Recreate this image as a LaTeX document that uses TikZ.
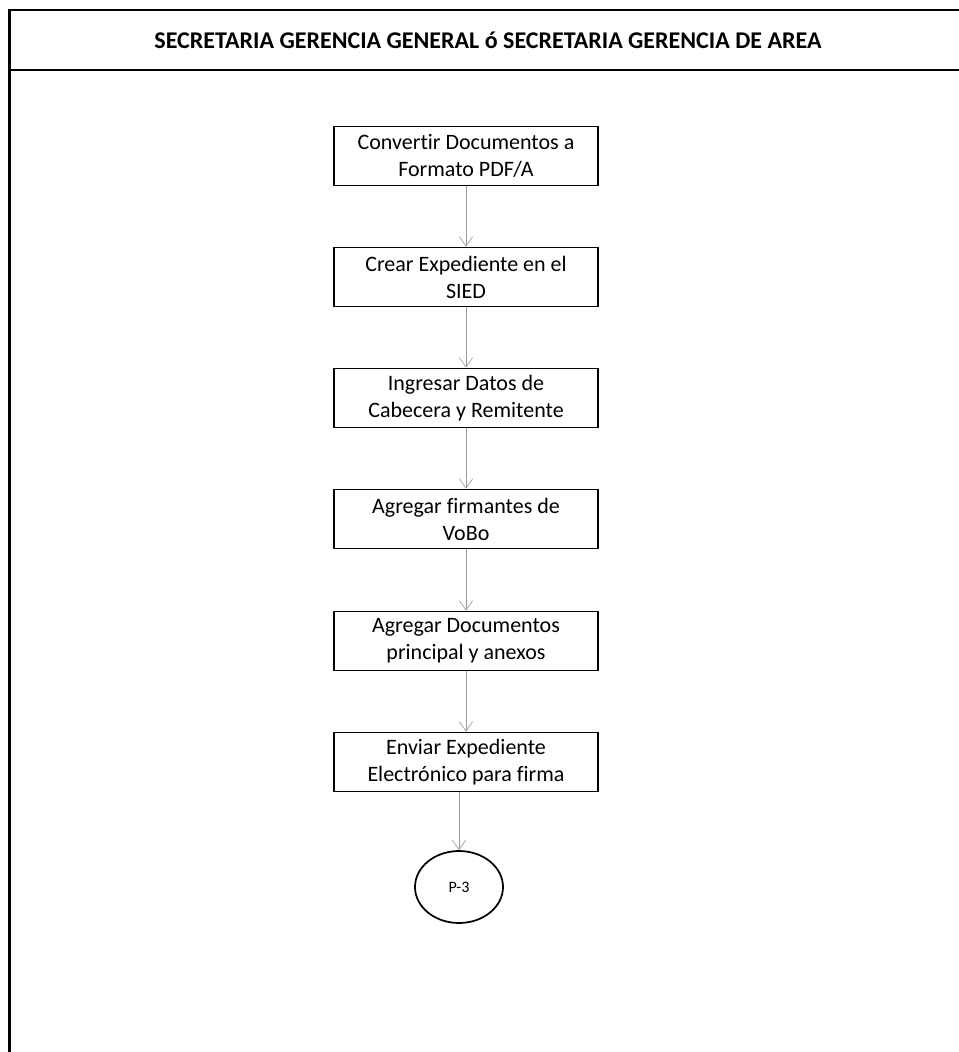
\documentclass[tikz,border=0pt]{standalone}
\usepackage{fontspec}
\setmainfont{Carlito}[Ligatures=NoCommon]
\usetikzlibrary{arrows.meta,shapes.geometric}

\begin{document}
\begin{tikzpicture}[x=0.75pt,y=-0.75pt,
   paso/.style={draw,line width=1.3pt,minimum width=198pt,minimum height=44.25pt,
      align=center,inner sep=2pt,font=\fontsize{16.5}{20.25}\selectfont},
   fin/.style={draw,ellipse,line width=1.3pt,minimum width=66pt,minimum height=54pt,
      inner sep=0pt,font=\fontsize{12}{14}\selectfont},
   flecha/.style={draw=gray!80,line width=0.5pt,-{Straight Barb[length=7pt,width=10pt]}}]
   \useasboundingbox (0,0) rectangle (959,1052);
   \draw[line width=2.2pt] (9.5,1052) -- (9.5,10) -- (965,10);
   \draw[line width=2.2pt] (9.5,70) -- (965,70);
   \node[font=\fontsize{18}{22}\selectfont\bfseries] (titulo) at (488,40)
      {SECRETARIA GERENCIA GENERAL ó SECRETARIA GERENCIA DE AREA};

   \node[paso] (convertir) at (466,156) {Convertir Documentos a\\Formato PDF/A};
   \node[paso] (crear) at (466,277) {Crear Expediente en el\\SIED};
   \node[paso] (ingresar) at (466,398) {Ingresar Datos de\\Cabecera y Remitente};
   \node[paso] (firmantes) at (466,519) {Agregar firmantes de\\VoBo};
   \node[paso] (agregar) at (466,641) {Agregar Documentos\\principal y anexos};
   \node[paso] (enviar) at (466,762) {Enviar Expediente\\Electrónico para firma};
   \node[fin] (p3) at (459,887) {P-3};

   \draw[flecha] (convertir) -- (crear);
   \draw[flecha] (crear) -- (ingresar);
   \draw[flecha] (ingresar) -- (firmantes);
   \draw[flecha] (firmantes) -- (agregar);
   \draw[flecha] (agregar) -- (enviar);
   \draw[flecha] (enviar.south -| p3.north) -- (p3.north);
\end{tikzpicture}
\end{document}
